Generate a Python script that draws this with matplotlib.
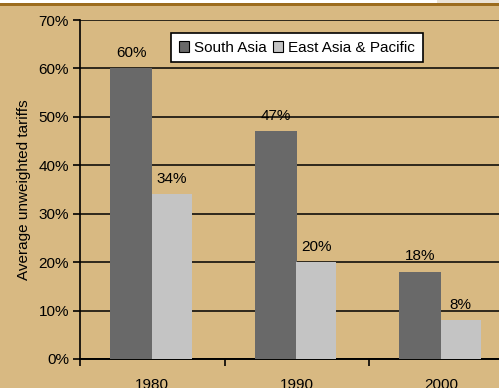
import matplotlib
matplotlib.use('Agg')
from matplotlib import pyplot as plt
from matplotlib.patches import Rectangle
import numpy as np

plt.rcParams['font.family'] = ['Liberation Sans', 'DejaVu Sans']

years = ['1980', '1990', '2000']
south_asia = [60, 47, 18]
east_asia_pacific = [34, 20, 8]
series_names = ['South Asia', 'East Asia & Pacific']

bg = '#d8b982'
dark = '#696969'
light = '#c4c4c4'
fs = 11

W, H = 499, 388
fig = plt.figure(figsize=(W / 100, H / 100), dpi=100, facecolor=bg)

# strip along the top edge and the brown rule under it
fig.patches.append(Rectangle((0, 1 - 3 / H), 437 / W, 3 / H, transform=fig.transFigure,
                             facecolor='white', edgecolor='none'))
fig.patches.append(Rectangle((437 / W, 1 - 3 / H), 1, 3 / H, transform=fig.transFigure,
                             facecolor='#ebe3d6', edgecolor='none'))
fig.patches.append(Rectangle((0, 1 - 5.5 / H), 1, 2.5 / H, transform=fig.transFigure,
                             facecolor='#9c6c1e', edgecolor='none'))

ax = fig.add_axes([80 / W, 1 - 359 / H, 3 * 144.5 / W, 339 / H])
ax.set_facecolor(bg)

x = np.arange(len(years))
bw = 0.29
b1 = ax.bar(x - bw / 2, south_asia, bw, color=dark, label=series_names[0], zorder=3)
b2 = ax.bar(x + bw / 2 - 0.01, east_asia_pacific, bw - 0.01, color=light,
            label=series_names[1], zorder=3)

for bars, vals in ((b1, south_asia), (b2, east_asia_pacific)):
    for r, v in zip(bars, vals):
        ax.annotate(f'{v}%', (r.get_x() + r.get_width() / 2, v), xytext=(0, 6),
                    textcoords='offset points', ha='center', va='bottom', fontsize=fs,
                    color='black')

ax.set_ylim(0, 70)
ax.set_xlim(-0.5, 2.5)
ax.set_yticks(np.arange(0, 71, 10))
ax.set_yticklabels([f'{v}%' for v in range(0, 71, 10)], fontsize=fs)
ax.yaxis.grid(True, color='black', linewidth=1.1, zorder=0)
ax.set_axisbelow(True)

# category boundaries carry the ticks, year labels sit at the centres
ax.set_xticks([-0.5, 0.5, 1.5, 2.5])
ax.set_xticklabels([])
ax.set_xticks(x, minor=True)
ax.set_xticklabels(years, minor=True, fontsize=fs)
ax.tick_params(axis='x', which='minor', length=0, pad=14)
ax.tick_params(axis='x', which='major', length=5, width=1.2, direction='out')
ax.tick_params(axis='y', length=5, width=1.2, direction='out', pad=3)

for s in ('top', 'right'):
    ax.spines[s].set_visible(False)
ax.spines['left'].set_linewidth(1.2)
ax.spines['bottom'].set_linewidth(1.4)

ax.set_ylabel('Average unweighted tariffs', fontsize=fs, labelpad=5)

leg = ax.legend(loc='upper left', bbox_to_anchor=((171 - 80) / (3 * 144.5), (359 - 33) / 339),
                ncol=2, frameon=True, fancybox=False, fontsize=fs, handlelength=0.7,
                handleheight=0.7, handletextpad=0.3, columnspacing=0.4, borderpad=0.5,
                borderaxespad=0)
leg.get_frame().set_edgecolor('black')
leg.get_frame().set_linewidth(1.2)
leg.get_frame().set_facecolor('white')
leg.get_frame().set_alpha(1)
for h in leg.legend_handles:
    h.set_edgecolor('black')
    h.set_linewidth(0.8)

fig.savefig('out.png', dpi=100, facecolor=bg)
